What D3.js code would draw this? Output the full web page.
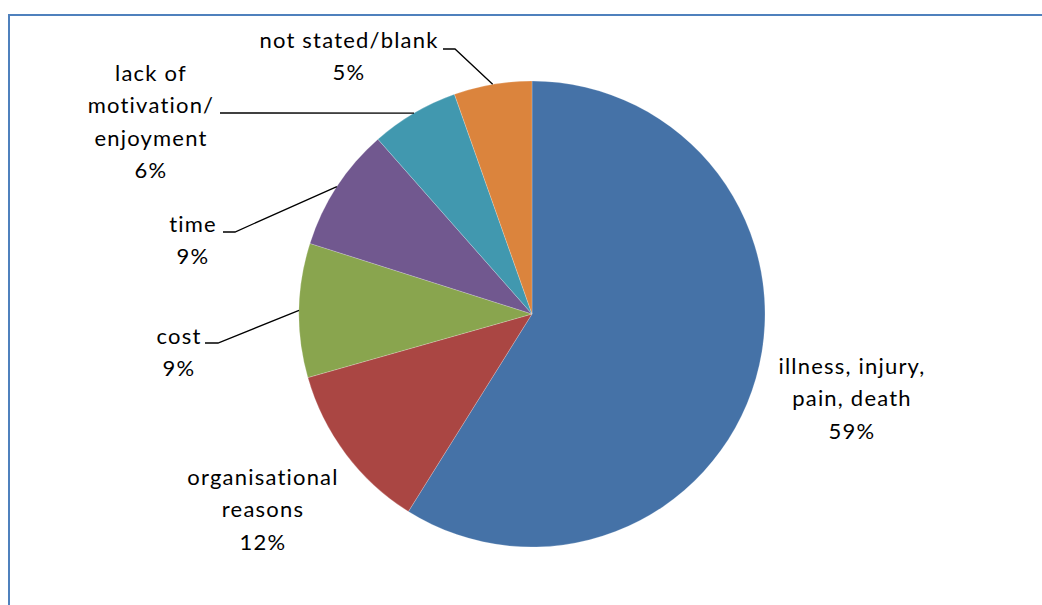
<!DOCTYPE html>
<html>
<head>
<meta charset="utf-8">
<script src="https://cdn.jsdelivr.net/npm/d3@7"></script>
<style>
html,body{margin:0;padding:0;background:#fff;}
svg{display:block;}
text{font-family:Lato,"Open Sans",sans-serif;font-size:22px;letter-spacing:1.2px;fill:#000;}
</style>
</head>
<body>
<svg id="chart" width="1042" height="605"></svg>
<script>
// ---- data ----
const categories = ["illness, injury, pain, death","organisational reasons","cost","time","lack of motivation/ enjoyment","not stated/blank"];
const values = [58.9, 11.7, 9.3, 8.6, 6.1, 5.4];
const percentLabels = ["59%","12%","9%","9%","6%","5%"];
const labelLines = [
  ["illness, injury,","pain, death"],
  ["organisational","reasons"],
  ["cost"],
  ["time"],
  ["lack of","motivation/","enjoyment"],
  ["not stated/blank"]
];
const colors = ["#4572A7","#AA4643","#89A54E","#71588F","#4198AF","#DB843D"];

// ---- layout ----
const W = 1042, H = 605;
const cx = 532, cy = 314, R = 233;
// label anchor (center x, first baseline y), and leader elbow (x,y) or null
const labelLayout = [
  {x: 852, y: 374, leader: null},
  {x: 263, y: 485, leader: null},
  {x: 179, y: 344, leader: {x0: 205, x1: 218, y: 343}},
  {x: 193, y: 232, leader: {x0: 223, x1: 235, y: 232}},
  {x: 151, y: 81,  leader: {x0: 220, x1: 220, y: 113}},
  {x: 349, y: 48,  leader: {x0: 443, x1: 455, y: 49}}
];
const lineH = 32.3;

const svg = d3.select("#chart");

// frame
svg.append("path")
  .attr("d", `M9,${H+5} L9,15 L${W+5},15`)
  .attr("fill","none").attr("stroke","#4F81BD").attr("stroke-width",2);

const pie = d3.pie().sort(null).value(d => d)(values);
const arc = d3.arc().innerRadius(0).outerRadius(R);

const g = svg.append("g").attr("transform", `translate(${cx},${cy})`);
g.selectAll("path.slice").data(pie).join("path")
  .attr("class","slice")
  .attr("d", arc)
  .attr("fill", (d,i) => colors[i])
  .attr("stroke", "rgba(255,255,255,0.35)")
  .attr("stroke-width", 0.6);

// leader lines
pie.forEach((d,i) => {
  const L = labelLayout[i].leader;
  if (!L) return;
  const a = (d.startAngle + d.endAngle)/2;
  const px = cx + R*Math.sin(a), py = cy - R*Math.cos(a);
  svg.append("polyline")
    .attr("points", `${L.x0},${L.y} ${L.x1},${L.y} ${px},${py}`)
    .attr("fill","none").attr("stroke","#000").attr("stroke-width",1.3);
});

// labels
pie.forEach((d,i) => {
  const lay = labelLayout[i];
  const lines = labelLines[i].concat([percentLabels[i]]);
  const t = svg.append("text").attr("text-anchor","middle");
  lines.forEach((s,k) => {
    t.append("tspan").attr("x", lay.x).attr("y", lay.y + k*lineH).text(s);
  });
});
</script>
</body>
</html>
